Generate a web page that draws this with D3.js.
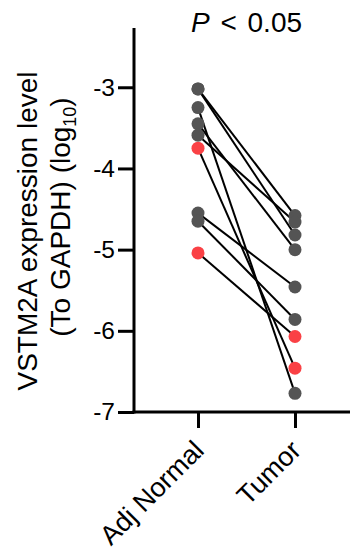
<!DOCTYPE html>
<html>
<head>
<meta charset="utf-8">
<script src="https://cdn.jsdelivr.net/npm/d3@7"></script>
<style>
  body { margin: 0; background: #fff; }
  svg { font-family: "Liberation Sans", Arial, sans-serif; }
</style>
</head>
<body>
<svg id="chart"></svg>
<script>
// paired samples, log10 expression relative to GAPDH
const groups = ["Adj Normal", "Tumor"];
const normalValues = [-3.02, -3.02, -3.25, -3.45, -3.59, -3.75, -4.55, -4.65, -5.04];
const tumorValues = [-4.58, -4.82, -6.77, -5.0, -4.66, -6.46, -5.46, -5.86, -6.07];
const highlighted = [false, false, false, false, false, true, false, false, true];
const yTicks = [-3, -4, -5, -6, -7];
const yDomain = [-7, -2.27];
const pText = "< 0.05";

const width = 351;
const height = 560;

const svg = d3.select("#chart").attr("width", width).attr("height", height);

const axisLeftX = 134;
const axisBottomY = 412;

const xScale = d3.scalePoint().domain(groups).range([198, 295]);
const yScale = d3.scaleLinear().domain(yDomain).range([axisBottomY, 28]);

const pairs = normalValues.map((v, i) => ({
  normal: v,
  tumor: tumorValues[i],
  red: highlighted[i],
}));

// Y axis
const yAxis = svg
  .append("g")
  .attr("transform", `translate(${axisLeftX},0)`)
  .call(
    d3
      .axisLeft(yScale)
      .tickValues(yTicks)
      .tickFormat((d) => String(d)) // plain hyphen like the original
      .tickSize(16)
      .tickPadding(3)
      .tickSizeOuter(0)
  );
yAxis.select(".domain").remove();
yAxis.selectAll(".tick line").attr("stroke", "#000").attr("stroke-width", 3);
yAxis
  .selectAll(".tick text")
  .attr("font-size", 24.5)
  .attr("fill", "#000")
  .attr("font-family", "Liberation Sans, Arial, sans-serif");
svg
  .append("line")
  .attr("x1", axisLeftX)
  .attr("x2", axisLeftX)
  .attr("y1", yScale(yDomain[1]))
  .attr("y2", axisBottomY + 1.5)
  .attr("stroke", "#000")
  .attr("stroke-width", 3);

// X axis
const xAxis = svg
  .append("g")
  .attr("transform", `translate(0,${axisBottomY})`)
  .call(d3.axisBottom(xScale).tickSize(16).tickSizeOuter(0));
xAxis.select(".domain").remove();
xAxis.selectAll(".tick line").attr("stroke", "#000").attr("stroke-width", 3);
xAxis
  .selectAll(".tick text")
  .attr("font-size", 27)
  .attr("fill", "#000")
  .attr("font-family", "Liberation Sans, Arial, sans-serif")
  .attr("text-anchor", "end")
  .attr("dy", 0)
  .attr("y", 0)
  .attr("transform", "translate(7,40) rotate(-45)");
svg
  .append("line")
  .attr("x1", axisLeftX - 1.5)
  .attr("x2", 350)
  .attr("y1", axisBottomY)
  .attr("y2", axisBottomY)
  .attr("stroke", "#000")
  .attr("stroke-width", 3);

// Y axis label (two lines)
svg
  .append("text")
  .attr("transform", "translate(37,231) rotate(-90)")
  .attr("text-anchor", "middle")
  .attr("font-size", 28)
  .text("VSTM2A expression level");
const label2 = svg
  .append("text")
  .attr("transform", "translate(70,217) rotate(-90)")
  .attr("text-anchor", "middle")
  .attr("font-size", 28);
label2.append("tspan").text("(To GAPDH) (log");
label2.append("tspan").attr("font-size", 18).attr("dy", 6).text("10");
label2.append("tspan").attr("dy", -6).text(")");

// P value title
const title = svg
  .append("text")
  .attr("x", (xScale(groups[0]) + xScale(groups[1])) / 2)
  .attr("y", 32)
  .attr("text-anchor", "middle")
  .attr("font-size", 28)
  .attr("word-spacing", 3);
title.append("tspan").attr("font-style", "italic").text("P");
title.append("tspan").text(" " + pText);

// connecting lines
svg
  .selectAll(".pair-line")
  .data(pairs)
  .enter()
  .append("line")
  .attr("class", "pair-line")
  .attr("x1", xScale(groups[0]))
  .attr("x2", xScale(groups[1]))
  .attr("y1", (d) => yScale(d.normal))
  .attr("y2", (d) => yScale(d.tumor))
  .attr("stroke", "#000")
  .attr("stroke-width", 2);

// points
const points = [];
pairs.forEach((d) => {
  points.push({ group: groups[0], value: d.normal, red: d.red });
  points.push({ group: groups[1], value: d.tumor, red: d.red });
});
svg
  .selectAll(".dot")
  .data(points)
  .enter()
  .append("circle")
  .attr("class", "dot")
  .attr("cx", (d) => xScale(d.group))
  .attr("cy", (d) => yScale(d.value))
  .attr("r", 6.5)
  .attr("fill", (d) => (d.red ? "#fa4145" : "#545454"));
</script>
</body>
</html>
